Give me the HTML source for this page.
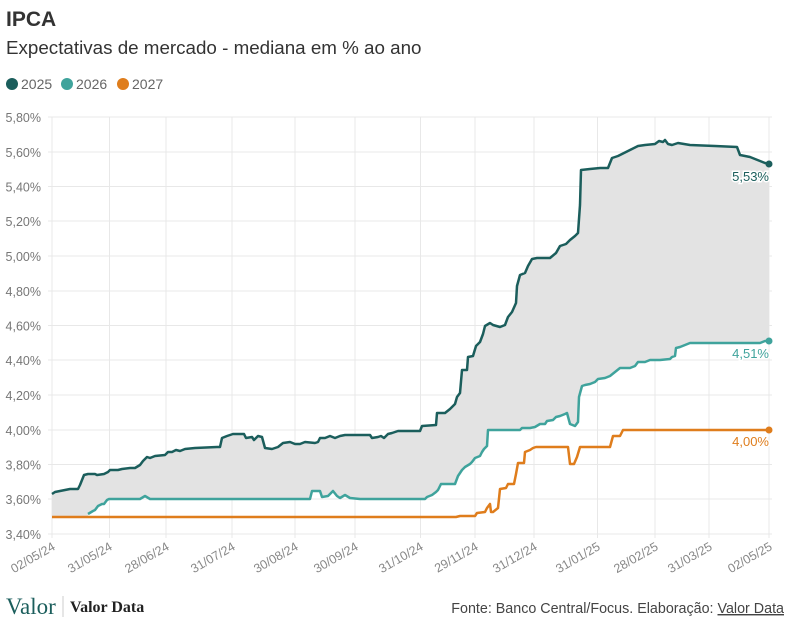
<!DOCTYPE html>
<html><head><meta charset="utf-8"><style>
body{margin:0;background:#fff;font-family:"Liberation Sans",sans-serif;}
.w{position:relative;width:792px;height:621px;overflow:hidden;}
</style></head><body><div class="w">
<svg width="792" height="621" xmlns="http://www.w3.org/2000/svg" font-family="Liberation Sans, sans-serif">
<text x="6" y="26" font-size="21" font-weight="bold" fill="#333">IPCA</text>
<text x="6" y="54" font-size="18.8" fill="#333">Expectativas de mercado - mediana em % ao ano</text>
<circle cx="12" cy="84" r="6" fill="#1b5e5c"/><text x="21" y="89" font-size="14" fill="#666">2025</text>
<circle cx="67" cy="84" r="6" fill="#3fa39c"/><text x="76" y="89" font-size="14" fill="#666">2026</text>
<circle cx="123" cy="84" r="6" fill="#df7d1c"/><text x="132" y="89" font-size="14" fill="#666">2027</text>
<g stroke="#e8e8e8" stroke-width="1">
<line x1="48" y1="117" x2="772" y2="117"/><line x1="48" y1="152" x2="772" y2="152"/><line x1="48" y1="186.5" x2="772" y2="186.5"/><line x1="48" y1="221" x2="772" y2="221"/><line x1="48" y1="256" x2="772" y2="256"/><line x1="48" y1="291" x2="772" y2="291"/><line x1="48" y1="325.5" x2="772" y2="325.5"/><line x1="48" y1="360" x2="772" y2="360"/><line x1="48" y1="395" x2="772" y2="395"/><line x1="48" y1="430" x2="772" y2="430"/><line x1="48" y1="464.5" x2="772" y2="464.5"/><line x1="48" y1="499" x2="772" y2="499"/><line x1="48" y1="534" x2="772" y2="534"/>
<line x1="52" y1="117" x2="52" y2="538"/><line x1="109.5" y1="117" x2="109.5" y2="538"/><line x1="166" y1="117" x2="166" y2="538"/><line x1="232" y1="117" x2="232" y2="538"/><line x1="295" y1="117" x2="295" y2="538"/><line x1="355" y1="117" x2="355" y2="538"/><line x1="420.5" y1="117" x2="420.5" y2="538"/><line x1="475" y1="117" x2="475" y2="538"/><line x1="534" y1="117" x2="534" y2="538"/><line x1="597.5" y1="117" x2="597.5" y2="538"/><line x1="655" y1="117" x2="655" y2="538"/><line x1="709" y1="117" x2="709" y2="538"/><line x1="769" y1="117" x2="769" y2="538"/>
</g>
<g font-size="12.5" fill="#777" text-anchor="end">
<text x="41" y="122">5,80%</text><text x="41" y="157">5,60%</text><text x="41" y="191.5">5,40%</text><text x="41" y="226">5,20%</text><text x="41" y="261">5,00%</text><text x="41" y="296">4,80%</text><text x="41" y="330.5">4,60%</text><text x="41" y="365">4,40%</text><text x="41" y="400">4,20%</text><text x="41" y="435">4,00%</text><text x="41" y="469.5">3,80%</text><text x="41" y="504">3,60%</text><text x="41" y="539">3,40%</text>
</g>
<g font-size="12.5" fill="#888" text-anchor="end">
<text transform="translate(56,549) rotate(-30)">02/05/24</text><text transform="translate(113,549) rotate(-30)">31/05/24</text><text transform="translate(170,549) rotate(-30)">28/06/24</text><text transform="translate(236,549) rotate(-30)">31/07/24</text><text transform="translate(299,549) rotate(-30)">30/08/24</text><text transform="translate(359,549) rotate(-30)">30/09/24</text><text transform="translate(424,549) rotate(-30)">31/10/24</text><text transform="translate(479,549) rotate(-30)">29/11/24</text><text transform="translate(538,549) rotate(-30)">31/12/24</text><text transform="translate(601,549) rotate(-30)">31/01/25</text><text transform="translate(659,549) rotate(-30)">28/02/25</text><text transform="translate(713,549) rotate(-30)">31/03/25</text><text transform="translate(773,549) rotate(-30)">02/05/25</text>
</g>
<polygon fill="#e3e3e3" points="52,494 55,492 60,491 65,490 70,489 78,489 80,485 84,475 88,474 95,474 97,475 104,474 108,472 110,470 118,470 122,469 130,468 135,468 140,465 143,461 147,457 150,458 155,456 165,455 168,452 172,452 176,450 180,451 185,449 195,448 217,447 220,447 222,438 227,436 233,434 244,434 246,438 252,437 254,440 258,436 262,437 265,448 272,449 278,447 283,443 290,442 295,444 300,444 305,442 315,443 318,442 320,438 325,438 330,436 335,438 340,436 345,435 370,435 372,438 378,437 381,436 384,438 388,434 392,433 398,431 420,431 422,426 436,425 437,413 445,413 450,409 455,404 457,397 460,393 462,370 467,370 468,357 473,356 476,346 480,342 483,334 485,326 490,323 493,325 500,327 505,325 508,317 512,312 516,303 517,286 520,275 525,273 528,266 532,259 537,258 550,258 556,253 560,246 566,244 570,240 575,236 578,233 580,205 581,170 590,169 600,168 608,168 612,158 618,156 622,154 630,150 638,146 645,145 655,144 659,141 663,142 665,140 668,144 672,145 678,143 690,145 715,146 737,147 740,155 750,157 755,159 760,161 765,163 769,164 769,341 765,341 760,343 690,343 685,345 680,347 676,348 675,356 672,357 670,359 660,360 650,360 645,362 638,362 635,366 630,368 620,368 615,372 610,376 605,378 598,379 595,382 590,384 585,385 582,386 579,397 578,422 575,426 570,424 567,413 565,414 560,416 556,417 553,420 547,421 545,424 540,424 535,427 530,428 522,428 520,430 488,430 487,446 484,449 482,452 480,456 475,458 472,462 470,464 465,467 462,470 458,476 455,484 441,484 438,490 436,492 432,495 427,497 425,499 360,499 350,498 345,495 340,498 337,496 333,491 328,496 322,497 320,491 312,491 310,499 150,499 145,496 140,499 109,499 107,500 104,504 102,504 98,506 95,510 93,511 88,514 88,517 52,517"/>
<g fill="none" stroke-width="2.5" stroke-linejoin="round">
<polyline stroke="#df7d1c" points="52,517 456,517 460,516 475,516 477,513 485,512 487,508 490,504 491,512 493,512 498,508 500,489 506,488 508,484 514,484 516,474 518,463 524,463 525,452 530,450 533,448 536,447 568,447 570,464 574,464 577,457 580,447 610,447 613,436 620,436 623,430 769,430"/>
<polyline stroke="#3fa39c" points="88,514 93,511 95,510 98,506 102,504 104,504 107,500 109,499 140,499 145,496 150,499 310,499 312,491 320,491 322,497 328,496 333,491 337,496 340,498 345,495 350,498 360,499 425,499 427,497 432,495 436,492 438,490 441,484 455,484 458,476 462,470 465,467 470,464 472,462 475,458 480,456 482,452 484,449 487,446 488,430 520,430 522,428 530,428 535,427 540,424 545,424 547,421 553,420 556,417 560,416 565,414 567,413 570,424 575,426 578,422 579,397 582,386 585,385 590,384 595,382 598,379 605,378 610,376 615,372 620,368 630,368 635,366 638,362 645,362 650,360 660,360 670,359 672,357 675,356 676,348 680,347 685,345 690,343 760,343 765,341 769,341"/>
<polyline stroke="#1b5e5c" points="52,494 55,492 60,491 65,490 70,489 78,489 80,485 84,475 88,474 95,474 97,475 104,474 108,472 110,470 118,470 122,469 130,468 135,468 140,465 143,461 147,457 150,458 155,456 165,455 168,452 172,452 176,450 180,451 185,449 195,448 217,447 220,447 222,438 227,436 233,434 244,434 246,438 252,437 254,440 258,436 262,437 265,448 272,449 278,447 283,443 290,442 295,444 300,444 305,442 315,443 318,442 320,438 325,438 330,436 335,438 340,436 345,435 370,435 372,438 378,437 381,436 384,438 388,434 392,433 398,431 420,431 422,426 436,425 437,413 445,413 450,409 455,404 457,397 460,393 462,370 467,370 468,357 473,356 476,346 480,342 483,334 485,326 490,323 493,325 500,327 505,325 508,317 512,312 516,303 517,286 520,275 525,273 528,266 532,259 537,258 550,258 556,253 560,246 566,244 570,240 575,236 578,233 580,205 581,170 590,169 600,168 608,168 612,158 618,156 622,154 630,150 638,146 645,145 655,144 659,141 663,142 665,140 668,144 672,145 678,143 690,145 715,146 737,147 740,155 750,157 755,159 760,161 765,163 769,164"/>
</g>
<circle cx="769" cy="164" r="3.5" fill="#1b5e5c"/><circle cx="769" cy="341" r="3.5" fill="#3fa39c"/><circle cx="769" cy="430" r="3.5" fill="#df7d1c"/>
<g font-size="13" text-anchor="end" stroke="#fff" stroke-width="3" paint-order="stroke">
<text x="769" y="181" fill="#1b5e5c">5,53%</text><text x="769" y="358" fill="#3fa39c">4,51%</text><text x="769" y="446" fill="#df7d1c">4,00%</text>
</g>
<text x="6" y="614" font-family="Liberation Serif, serif" font-size="23" fill="#1b5e5c">Valor</text>
<line x1="63" y1="596" x2="63" y2="617" stroke="#ccc"/>
<text x="70" y="612" font-family="Liberation Serif, serif" font-size="16" font-weight="bold" fill="#222">Valor Data</text>
<text x="784" y="613" font-size="14.3" fill="#444" text-anchor="end">Fonte: Banco Central/Focus. Elaboração: <tspan text-decoration="underline">Valor Data</tspan></text>
</svg></div></body></html>
